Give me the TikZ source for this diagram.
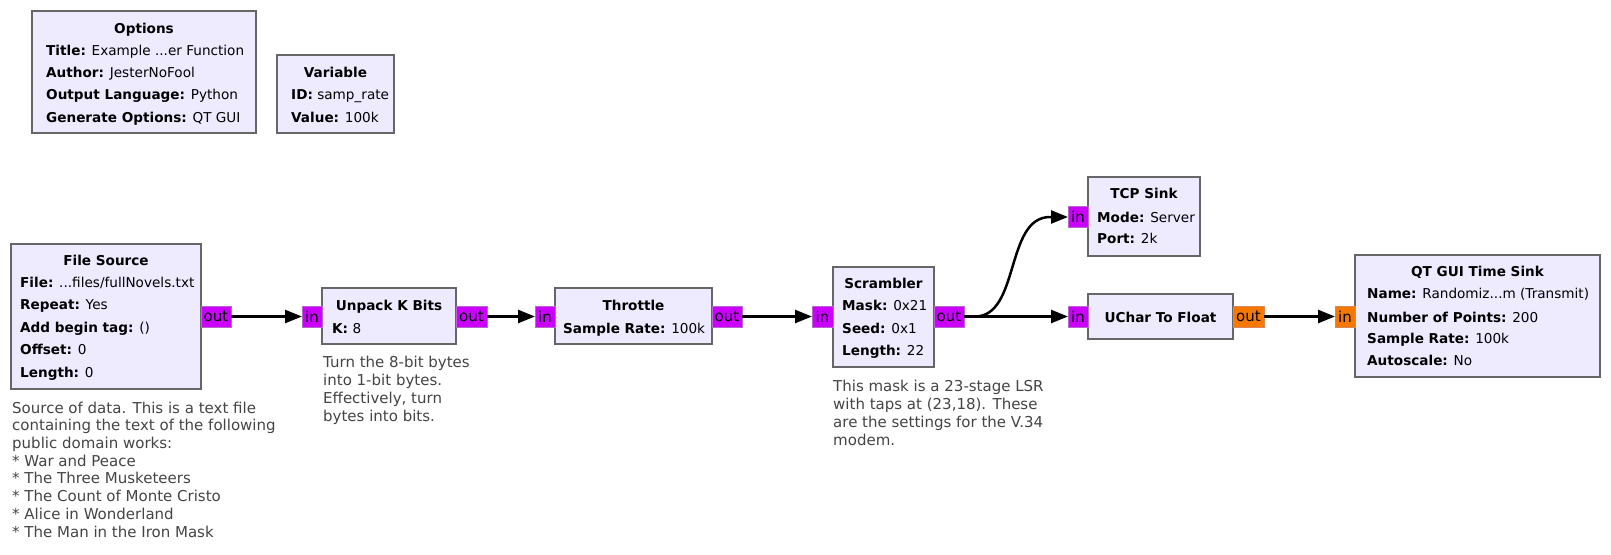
\documentclass[tikz,border=0pt]{standalone}
\usepackage{fontspec}
\setmainfont{DejaVu Sans}
\usetikzlibrary{arrows.meta}
\definecolor{blockfill}{HTML}{EEEAFF}
\definecolor{blockdraw}{HTML}{666666}
\definecolor{bytefill}{HTML}{CC00FF}
\definecolor{bytedraw}{HTML}{B868C8}
\definecolor{floatfill}{HTML}{F57900}
\definecolor{floatdraw}{HTML}{D88858}
\definecolor{commentcol}{HTML}{444444}
\begin{document}
\begin{tikzpicture}[x=1pt,y=-1pt,
  block/.style={draw=blockdraw, fill=blockfill, line width=2.5pt, anchor=north west, inner sep=0pt, outer sep=0pt},
  portbase/.style={line width=1pt, anchor=north west, inner sep=0pt, outer sep=0pt, minimum height=21pt, font=\fontsize{15}{16}\selectfont},
  bport/.style={portbase, draw=bytedraw, fill=bytefill},
  fport/.style={portbase, draw=floatdraw, fill=floatfill},
  ttl/.style={font=\fontsize{13.6}{16}\selectfont\bfseries, inner sep=0pt, anchor=base},
  param/.style={font=\fontsize{13.6}{16}\selectfont, inner sep=0pt, anchor=base west},
  cmt/.style={font=\fontsize{15}{17.7}\selectfont, text=commentcol, inner sep=0pt, anchor=base west, align=left},
  wire/.style={line width=2.5pt, -{Triangle[length=17pt,width=13pt]}},
]
\useasboundingbox (0,0) rectangle (1611,554);

% Options
\node[block, minimum width=224pt, minimum height=122pt] (options) at (32,11) {};
\node[ttl] (optT) at (144,33) {Options};
\node[param] (opt1) at (46,55) {\textbf{Title:} Example ...er Function};
\node[param] (opt2) at (46,77) {\textbf{Author:} JesterNoFool};
\node[param] (opt3) at (46,99) {\textbf{Output Language:} Python};
\node[param] (opt4) at (46,122) {\textbf{Generate Options:} QT GUI};

% Variable
\node[block, minimum width=117pt, minimum height=78pt] (var) at (277,55) {};
\node[ttl] (varT) at (335.5,77) {Variable};
\node[param] (var1) at (291,99) {\textbf{ID:} samp\_rate};
\node[param] (var2) at (291,122) {\textbf{Value:} 100k};

% File Source
\node[block, minimum width=190pt, minimum height=145pt] (fs) at (11,244) {};
\node[ttl] (fsT) at (106,265) {File Source};
\node[param] (fs1) at (20,287) {\textbf{File:} ...files/fullNovels.txt};
\node[param] (fs2) at (20,309) {\textbf{Repeat:} Yes};
\node[param] (fs3) at (20,332) {\textbf{Add begin tag:} ()};
\node[param] (fs4) at (20,354) {\textbf{Offset:} 0};
\node[param] (fs5) at (20,377) {\textbf{Length:} 0};
\node[bport, minimum width=30pt] (fsout) at (201,306) {out};
\node[cmt] (fsC) at (12,537) {Source of data. This is a text file\\containing the text of the following\\public domain works:\\* War and Peace\\* The Three Musketeers\\* The Count of Monte Cristo\\* Alice in Wonderland\\* The Man in the Iron Mask};

% Unpack K Bits
\node[block, minimum width=134pt, minimum height=56pt] (up) at (322,288) {};
\node[ttl] (upT) at (389,310) {Unpack K Bits};
\node[param] (up1) at (332,333) {\textbf{K:} 8};
\node[bport, minimum width=20pt] (upin) at (302,306) {in};
\node[bport, minimum width=31pt] (upout) at (456,306) {out};
\node[cmt] (upC) at (323,421) {Turn the 8-bit bytes\\into 1-bit bytes.\\Effectively, turn\\bytes into bits.};

% Throttle
\node[block, minimum width=157pt, minimum height=56pt] (th) at (555,288) {};
\node[ttl] (thT) at (633.5,310) {Throttle};
\node[param] (th1) at (563,333) {\textbf{Sample Rate:} 100k};
\node[bport, minimum width=20pt] (thin) at (535,306) {in};
\node[bport, minimum width=30pt] (thout) at (712,306) {out};

% Scrambler
\node[block, minimum width=101pt, minimum height=100pt] (sc) at (833,267) {};
\node[ttl] (scT) at (883.5,288) {Scrambler};
\node[param] (sc1) at (842,310) {\textbf{Mask:} 0x21};
\node[param] (sc2) at (842,333) {\textbf{Seed:} 0x1};
\node[param] (sc3) at (842,355) {\textbf{Length:} 22};
\node[bport, minimum width=21pt] (scin) at (812,306) {in};
\node[bport, minimum width=30pt] (scout) at (934,306) {out};
\node[cmt] (scC) at (833,445) {This mask is a 23-stage LSR\\with taps at (23,18). These\\are the settings for the V.34\\modem.};

% TCP Sink
\node[block, minimum width=112pt, minimum height=79pt] (tcp) at (1088,177) {};
\node[ttl] (tcpT) at (1144,198) {TCP Sink};
\node[param] (tcp1) at (1097,222) {\textbf{Mode:} Server};
\node[param] (tcp2) at (1097,243) {\textbf{Port:} 2k};
\node[bport, minimum width=20pt] (tcpin) at (1068,206.5) {in};

% UChar To Float
\node[block, minimum width=145pt, minimum height=45pt] (uc) at (1088,294) {};
\node[ttl] (ucT) at (1160.5,322) {UChar To Float};
\node[bport, minimum width=20pt] (ucin) at (1068,306) {in};
\node[fport, minimum width=31pt] (ucout) at (1233,306) {out};

% QT GUI Time Sink
\node[block, minimum width=245pt, minimum height=122pt] (qt) at (1355,255) {};
\node[ttl] (qtT) at (1477.5,276) {QT GUI Time Sink};
\node[param] (qt1) at (1367,298) {\textbf{Name:} Randomiz...m (Transmit)};
\node[param] (qt2) at (1367,322) {\textbf{Number of Points:} 200};
\node[param] (qt3) at (1367,343) {\textbf{Sample Rate:} 100k};
\node[param] (qt4) at (1367,365) {\textbf{Autoscale:} No};
\node[fport, minimum width=20pt] (qtin) at (1335,306) {in};

% connections
\draw[wire] (fsout.east) -- (upin.west);
\draw[wire] (upout.east) -- (thin.west);
\draw[wire] (thout.east) -- (scin.west);
\draw[wire] (scout.east) -- (ucin.west);
\draw[wire] (scout.east) -- ([xshift=11pt]scout.east) .. controls ([xshift=56pt]scout.east) and ([xshift=-63pt]tcpin.west) .. ([xshift=-18pt]tcpin.west) -- (tcpin.west);
\draw[wire] (ucout.east) -- (qtin.west);
\end{tikzpicture}
\end{document}
